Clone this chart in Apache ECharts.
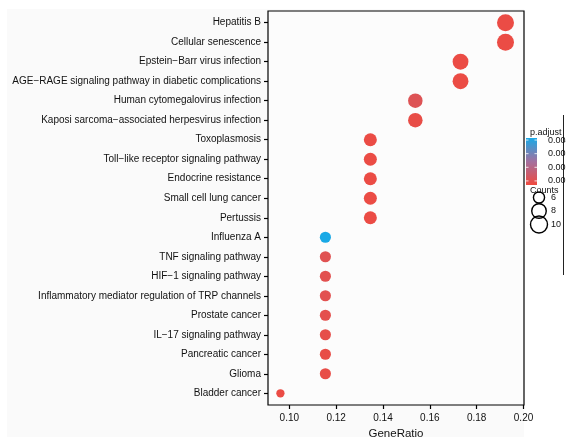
<!DOCTYPE html>
<html><head><meta charset="utf-8">
<script src="https://cdn.jsdelivr.net/npm/echarts@6/dist/echarts.min.js"></script>
<style>html,body{margin:0;padding:0;background:#fff}#c{width:566px;height:437px}</style>
</head><body><div id="c"></div>
<script>
const categories = ["Hepatitis B","Cellular senescence","Epstein\u2212Barr virus infection","AGE\u2212RAGE signaling pathway in diabetic complications","Human cytomegalovirus infection","Kaposi sarcoma\u2212associated herpesvirus infection","Toxoplasmosis","Toll\u2212like receptor signaling pathway","Endocrine resistance","Small cell lung cancer","Pertussis","Influenza A","TNF signaling pathway","HIF\u22121 signaling pathway","Inflammatory mediator regulation of TRP channels","Prostate cancer","IL\u221217 signaling pathway","Pancreatic cancer","Glioma","Bladder cancer"];
const geneRatio = [0.1923,0.1923,0.1731,0.1731,0.1538,0.1538,0.1346,0.1346,0.1346,0.1346,0.1346,0.1154,0.1154,0.1154,0.1154,0.1154,0.1154,0.1154,0.1154,0.0962];
const counts = [10,10,9,9,8,8,7,7,7,7,7,6,6,6,6,6,6,6,6,5];
const pAdjust = [0.0008,0.0008,0.0008,0.0008,0.0011,0.00085,0.0008,0.0008,0.0008,0.0008,0.0008,0.00415,0.00105,0.001,0.001,0.00095,0.0009,0.00085,0.00085,0.0008];
const xTicks = [0.10,0.12,0.14,0.16,0.18,0.20];
const colorTicks = ["0.004","0.003","0.002","0.001"];
const colorTickValues = [0.004,0.003,0.002,0.001];
const sizeBreaks = [6,8,10];

const pMin = 0.0007, pMax = 0.00415;
const colors = ['#EF4A3F','#A3709F','#19A9E6'];
function sz(c){ return 5.05 + 5.14*Math.sqrt(c-4.6); }

const chart = echarts.init(document.getElementById('c'), null, {renderer:'canvas'});
const data = categories.map((c,i)=>[geneRatio[i], i, pAdjust[i], counts[i]]);

const FONT = '"Liberation Sans", Arial, sans-serif';
const cbX = 526, cbY = 138, cbW = 11, cbH = 47;
const graphics = [
  {type:'rect', z:-10, shape:{x:7,y:9,width:517,height:428}, style:{fill:'#FAFAFA'}},
  {type:'line', z:-5, shape:{x1:563.5,y1:115,x2:563.5,y2:275}, style:{stroke:'#222', lineWidth:1}},
  {type:'text', style:{x:530, y:133, text:'p.adjust', verticalAlign:'middle', font:'9px '+FONT, fill:'#111'}},
  {type:'rect', shape:{x:cbX,y:cbY,width:cbW,height:cbH}, style:{fill:new echarts.graphic.LinearGradient(0,1,0,0,[{offset:0,color:colors[0]},{offset:0.5,color:colors[1]},{offset:1,color:colors[2]}])}},
  {type:'text', style:{x:530, y:191, text:'Counts', verticalAlign:'middle', font:'9px '+FONT, fill:'#111'}}
];
colorTickValues.forEach((v,k)=>{
  const y = cbY + cbH*(1-(v-pMin)/(pMax-pMin));
  graphics.push({type:'line', shape:{x1:cbX,y1:y,x2:cbX+2.5,y2:y}, style:{stroke:'#fff',lineWidth:0.8}});
  graphics.push({type:'line', shape:{x1:cbX+cbW-2.5,y1:y,x2:cbX+cbW,y2:y}, style:{stroke:'#fff',lineWidth:0.8}});
  graphics.push({type:'text', style:{x:548, y:y, text:colorTicks[k], verticalAlign:'middle', font:'9px '+FONT, fill:'#111'}});
});
const sizeY = [197.5, 211, 224.5];
sizeBreaks.forEach((c,k)=>{
  graphics.push({type:'circle', shape:{cx:539, cy:sizeY[k], r:sz(c)/2}, style:{fill:'none', stroke:'#000', lineWidth:1.4}});
  graphics.push({type:'text', style:{x:551, y:sizeY[k], text:String(c), verticalAlign:'middle', font:'9px '+FONT, fill:'#111'}});
});

chart.setOption({
  animation:false,
  backgroundColor:'#fff',
  grid:{left:268, right:42, top:11, bottom:32, containLabel:false, outerBoundsMode:'none', show:true, borderColor:'#000', borderWidth:1.2, backgroundColor:'#FCFCFC'},
  xAxis:{type:'value', position:'bottom', min:0.0909, max:0.2002, name:'GeneRatio', nameLocation:'middle', nameGap:22,
    nameTextStyle:{fontSize:11.5, color:'#111', fontFamily:FONT},
    axisLine:{show:false, onZero:false}, splitLine:{show:false},
    axisTick:{show:true, length:4, lineStyle:{color:'#000', width:1.2}, customValues:xTicks},
    axisLabel:{customValues:xTicks, formatter:v=>v.toFixed(2), fontSize:10, color:'#111', margin:8, fontFamily:FONT}},
  yAxis:{type:'value', position:'left', min:-0.6, max:19.6, inverse:true,
    axisLine:{show:false, onZero:false}, splitLine:{show:false},
    axisTick:{show:true, length:4, lineStyle:{color:'#000', width:1.2}, customValues:categories.map((c,i)=>i)},
    axisLabel:{customValues:categories.map((c,i)=>i), formatter:v=>categories[Math.round(v)], fontSize:10, color:'#111', margin:7, fontFamily:FONT}},
  visualMap:{show:false, type:'continuous', dimension:2, min:pMin, max:pMax, inRange:{color:colors}, seriesIndex:0},
  series:[{type:'scatter', data:data, symbolSize:(v)=>sz(v[3]), itemStyle:{opacity:1}}],
  graphic:graphics
});
</script></body></html>
